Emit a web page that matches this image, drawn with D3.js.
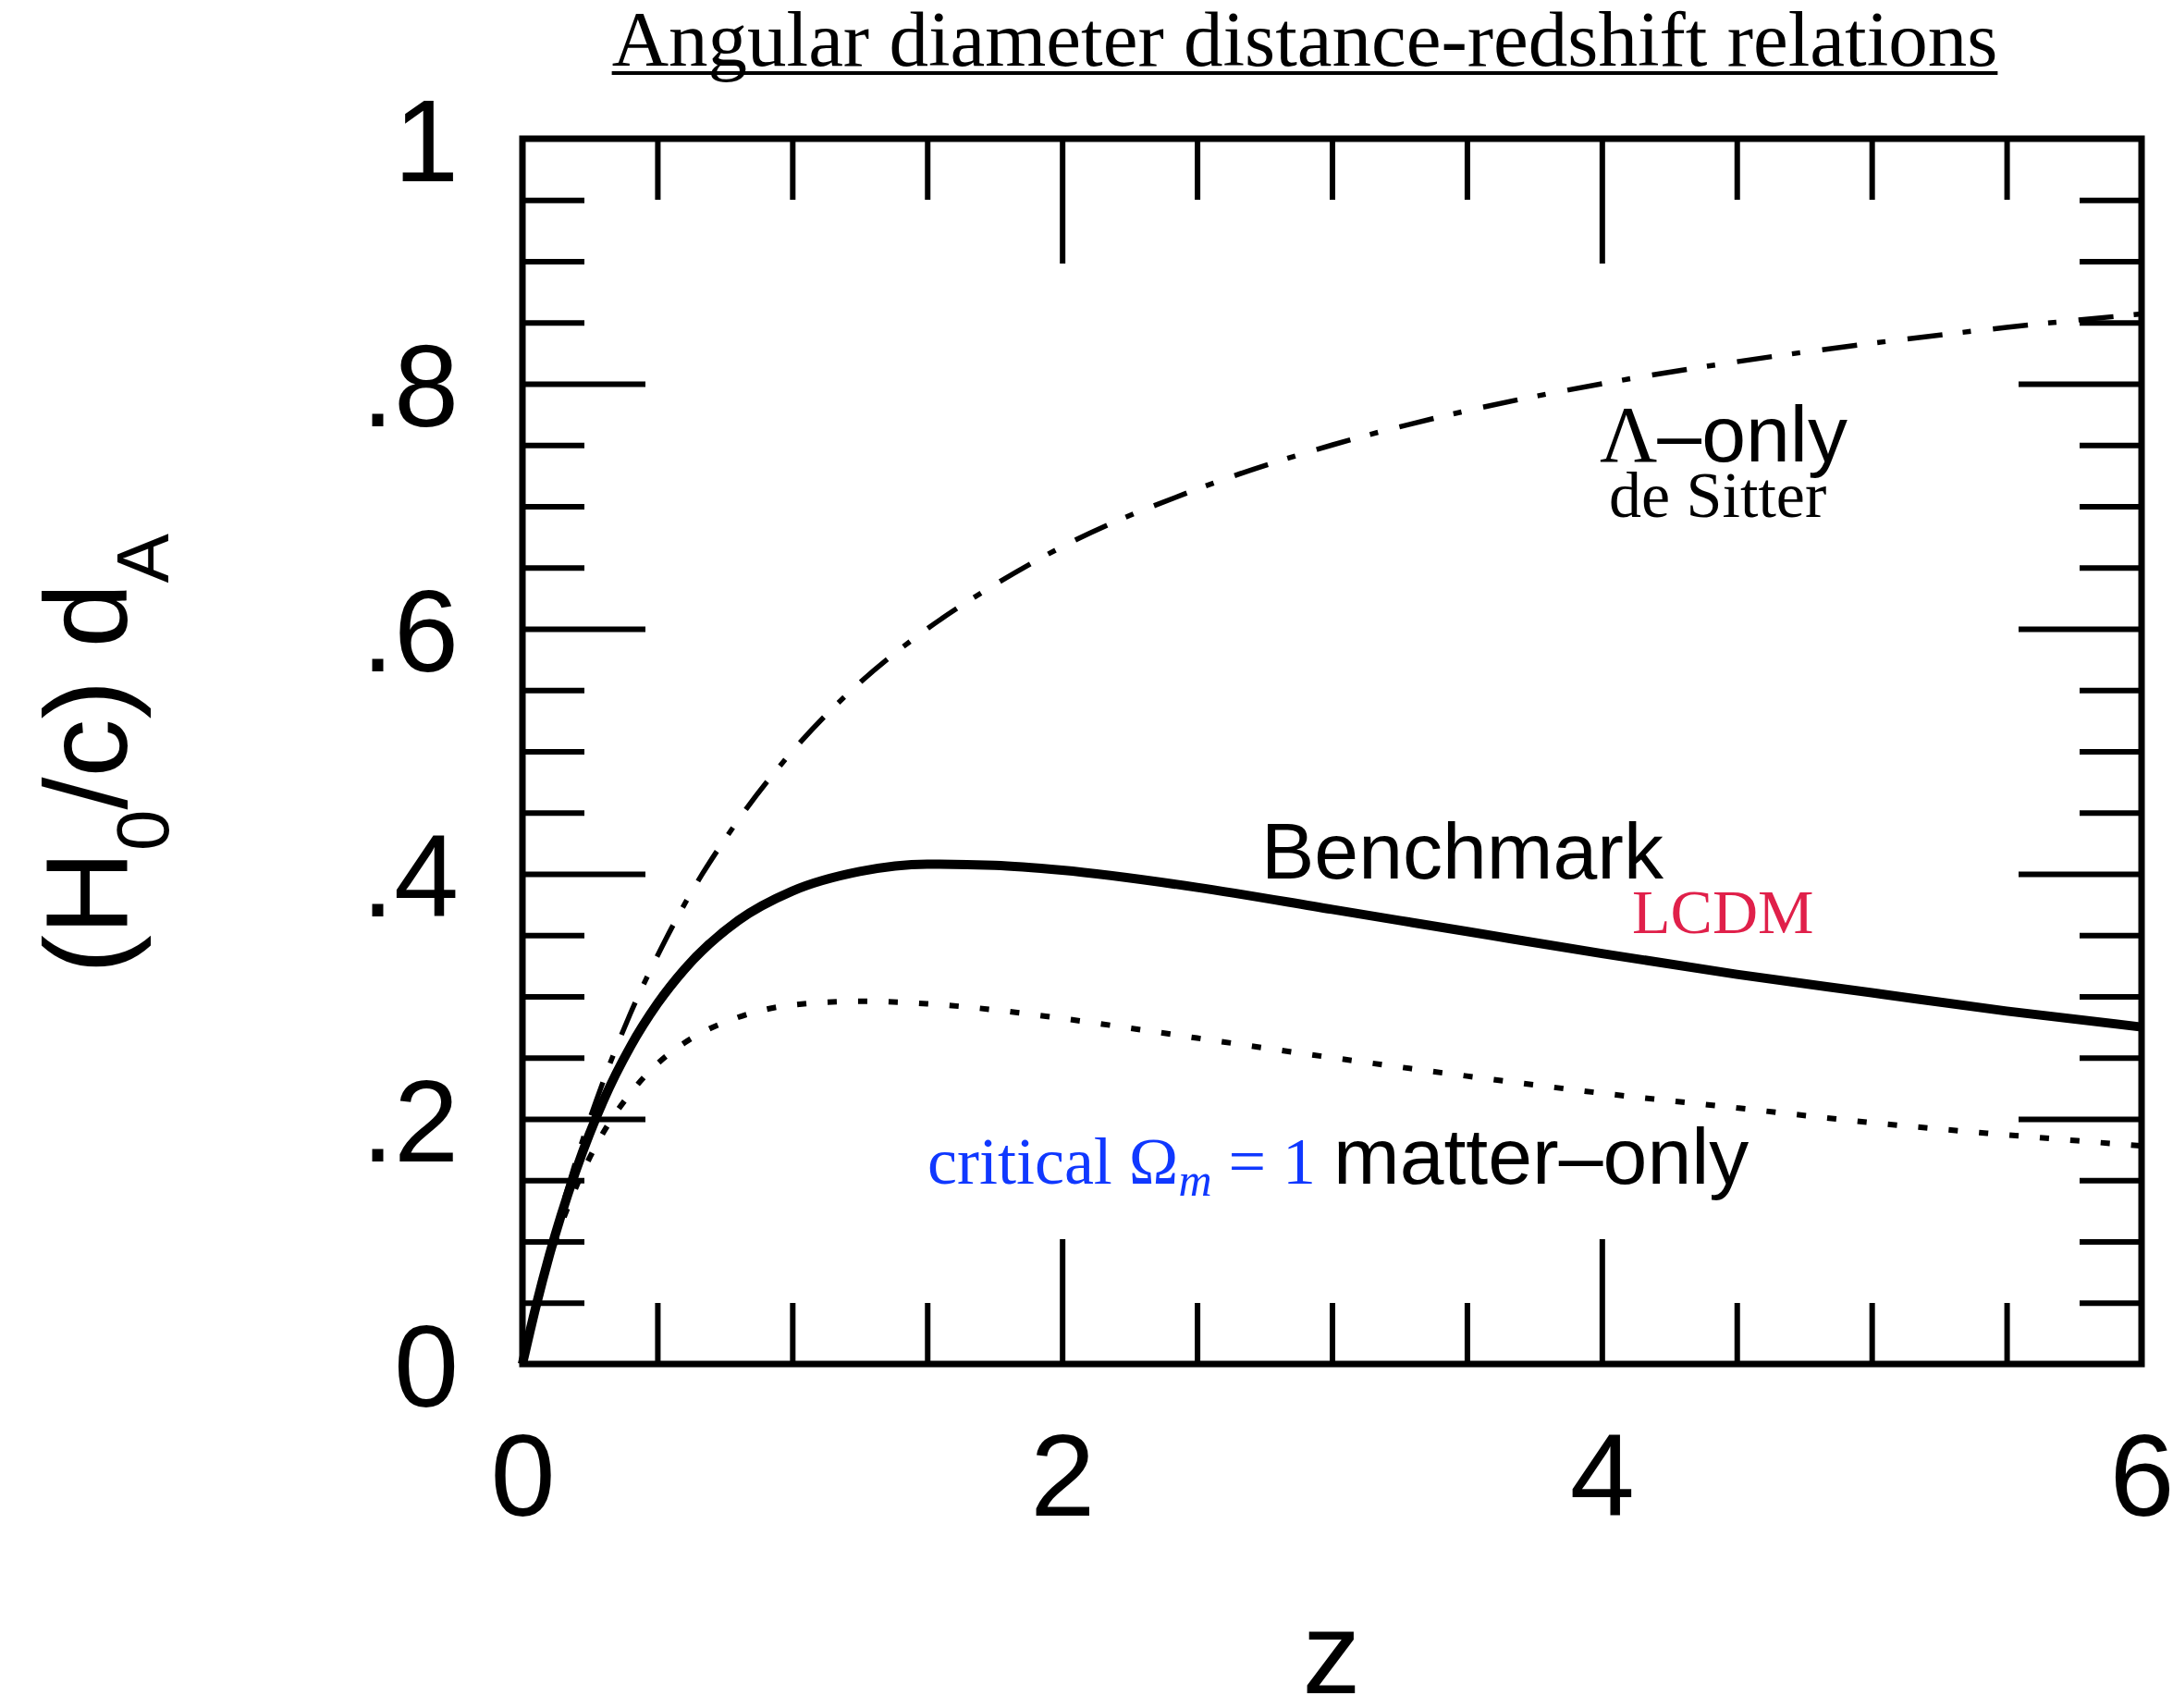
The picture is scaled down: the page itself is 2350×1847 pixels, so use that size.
<!DOCTYPE html>
<html>
<head>
<meta charset="utf-8">
<script src="https://cdn.jsdelivr.net/npm/d3@7"></script>
<style>
  html, body { margin: 0; padding: 0; background: #fff; }
  svg { display: block; }
</style>
</head>
<body>
<svg id="chart" width="2350" height="1847"></svg>
<script>
// redshift grid and the three curves, (H0/c) dA
const zGrid      = [0, 0.05, 0.1, 0.2, 0.3, 0.4, 0.5, 0.6, 0.8, 1.0, 1.25, 1.5, 1.75, 2, 2.5, 3, 3.5, 4, 4.5, 5, 5.5, 6]
const deSitter   = [0, 0.048, 0.091, 0.167, 0.231, 0.286, 0.333, 0.375, 0.444, 0.500, 0.556, 0.600, 0.636, 0.667, 0.714, 0.750, 0.778, 0.800, 0.818, 0.833, 0.846, 0.857]
const benchmark  = [0, 0.047, 0.089, 0.159, 0.215, 0.259, 0.294, 0.322, 0.362, 0.386, 0.402, 0.408, 0.407, 0.403, 0.389, 0.371, 0.353, 0.335, 0.318, 0.303, 0.288, 0.275]
const matterOnly = [0, 0.046, 0.085, 0.145, 0.189, 0.221, 0.245, 0.262, 0.283, 0.293, 0.296, 0.294, 0.289, 0.282, 0.266, 0.250, 0.235, 0.221, 0.209, 0.197, 0.187, 0.178]

const yMajor = [0.2, 0.4, 0.6, 0.8]
const yMinor = [0.05, 0.1, 0.15, 0.25, 0.3, 0.35, 0.45, 0.5, 0.55, 0.65, 0.7, 0.75, 0.85, 0.9, 0.95]
const yTicks = [0, 0.2, 0.4, 0.6, 0.8, 1]
const yTickLabels = ['0', '.2', '.4', '.6', '.8', '1']
const xMajor = [2, 4]
const xMinor = [0.5, 1, 1.5, 2.5, 3, 3.5, 4.5, 5, 5.5]
const xTicks = [0, 2, 4, 6]
const xTickLabels = ['0', '2', '4', '6']

const sans = '"Liberation Sans", Arial, Helvetica, sans-serif'
const serif = '"Liberation Serif", "Times New Roman", serif'

const svg = d3.select('#chart')
const L = 565, R = 2316, T = 150, B = 1475
const x = d3.scaleLinear().domain([0, 6]).range([L, R])
const y = d3.scaleLinear().domain([0, 1]).range([B, T])

// ticks on all four sides, pointing inward
function ticks(axis, vals, size, tx, ty) {
  const g = svg.append('g').attr('transform', `translate(${tx},${ty})`)
    .call(axis.tickValues(vals).tickSize(size).tickFormat(''))
  g.select('.domain').remove()
  g.selectAll('line').attr('stroke', '#000').attr('stroke-width', 6)
}
ticks(d3.axisRight(y), yMinor, 67, L, 0)
ticks(d3.axisRight(y), yMajor, 133, L, 0)
ticks(d3.axisLeft(y), yMinor, 67, R, 0)
ticks(d3.axisLeft(y), yMajor, 133, R, 0)
ticks(d3.axisTop(x), xMinor, 66, 0, B)
ticks(d3.axisTop(x), xMajor, 135, 0, B)
ticks(d3.axisBottom(x), xMinor, 66, 0, T)
ticks(d3.axisBottom(x), xMajor, 135, 0, T)

// tick labels
const yl = svg.append('g').attr('transform', `translate(${L},0)`)
  .call(d3.axisLeft(y).tickValues(yTicks).tickSize(0).tickPadding(69).tickFormat((d, i) => yTickLabels[i]))
yl.select('.domain').remove()
yl.selectAll('text').attr('font-family', sans).attr('font-size', 126).attr('dy', '0.36em').attr('fill', '#000')

const xl = svg.append('g').attr('transform', `translate(0,${B})`)
  .call(d3.axisBottom(x).tickValues(xTicks).tickSize(0).tickPadding(75).tickFormat((d, i) => xTickLabels[i]))
xl.select('.domain').remove()
xl.selectAll('text').attr('font-family', sans).attr('font-size', 126).attr('fill', '#000')

// curves
const line = vals => d3.line().x((d, i) => x(zGrid[i])).y(d => y(d)).curve(d3.curveMonotoneX)(vals)
svg.append('path').attr('d', line(deSitter)).attr('fill', 'none').attr('stroke', '#000')
  .attr('stroke-width', 5.5).attr('stroke-dasharray', '38,22,9,24')
svg.append('path').attr('d', line(matterOnly)).attr('fill', 'none').attr('stroke', '#000')
  .attr('stroke-width', 6).attr('stroke-dasharray', '10,23')
svg.append('path').attr('d', line(benchmark)).attr('fill', 'none').attr('stroke', '#000')
  .attr('stroke-width', 10)

// frame
svg.append('rect').attr('x', L).attr('y', T).attr('width', R - L).attr('height', B - T)
  .attr('fill', 'none').attr('stroke', '#000').attr('stroke-width', 7)

// axis titles
svg.append('text').attr('x', 1440).attr('y', 1831).attr('text-anchor', 'middle')
  .attr('font-family', sans).attr('font-size', 126).text('z')

const yt = svg.append('text').attr('transform', 'translate(137,815) rotate(-90)')
  .attr('text-anchor', 'middle').attr('font-family', sans).attr('font-size', 126)
yt.append('tspan').text('(H')
yt.append('tspan').attr('font-size', 80).attr('dy', 45).text('0')
yt.append('tspan').attr('dy', -45).text('/c) d')
yt.append('tspan').attr('font-size', 80).attr('dy', 45).text('A')

// title, underlined
const title = svg.append('text').attr('x', 1411).attr('y', 71).attr('text-anchor', 'middle')
  .attr('font-family', serif).attr('font-size', 85).text('Angular diameter distance-redshift relations')
const tb = title.node().getBBox()
svg.append('line').attr('x1', tb.x).attr('x2', tb.x + tb.width).attr('y1', 79).attr('y2', 79)
  .attr('stroke', '#000').attr('stroke-width', 4)

// annotations
const lam = svg.append('text').attr('x', 1730).attr('y', 499).attr('font-size', 86)
lam.append('tspan').attr('font-family', serif).text('Λ')
lam.append('tspan').attr('font-family', sans).text('–only')
svg.append('text').attr('x', 1740).attr('y', 559).attr('font-family', serif).attr('font-size', 70).text('de Sitter')

svg.append('text').attr('x', 1364).attr('y', 950).attr('font-family', sans).attr('font-size', 86).text('Benchmark')
svg.append('text').attr('x', 1765).attr('y', 1009).attr('font-family', serif).attr('font-size', 68)
  .attr('fill', '#e0204a').text('LCDM')

const crit = svg.append('text').attr('x', 1003).attr('y', 1280).attr('font-family', serif).attr('font-size', 72)
  .attr('fill', '#1038ff')
crit.append('tspan').text('critical Ω')
crit.append('tspan').attr('font-size', 50).attr('font-style', 'italic').attr('dy', 13).text('m')
crit.append('tspan').attr('dy', -13).text(' = 1')
svg.append('text').attr('x', 1442).attr('y', 1280).attr('font-family', sans).attr('font-size', 86).text('matter–only')
</script>
</body>
</html>
